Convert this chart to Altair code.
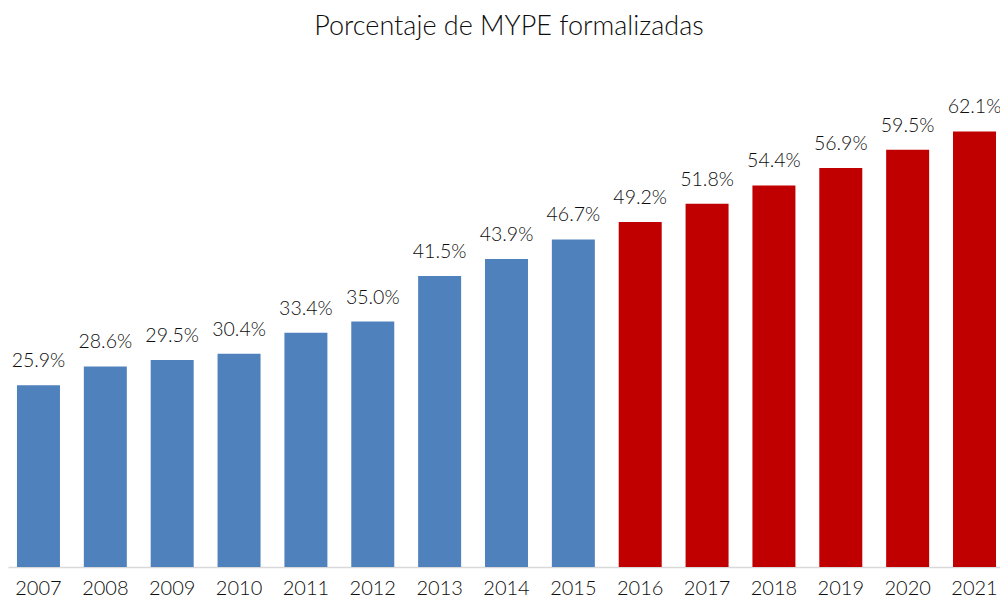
import altair as alt
import pandas as pd

years = ["2007", "2008", "2009", "2010", "2011", "2012", "2013", "2014",
         "2015", "2016", "2017", "2018", "2019", "2020", "2021"]
values = [25.9, 28.6, 29.5, 30.4, 33.4, 35.0, 41.5, 43.9,
          46.7, 49.2, 51.8, 54.4, 56.9, 59.5, 62.1]
groups = ["a"] * 9 + ["b"] * 6

df = pd.DataFrame({"year": years, "value": values, "group": groups})
df["label"] = df["value"].map(lambda v: f"{v:.1f}%")

FONT = "Lato"
TXT = "#0d0d0d"
W = 300

base = alt.Chart(df).encode(
    x=alt.X("year:N", sort=years,
            scale=alt.Scale(paddingInner=0.357, paddingOuter=0.097, align=0.692,
                            round=False),
            axis=alt.Axis(title=None, labelAngle=0, ticks=False, domain=True,
                          domainColor="#D9D9D9", domainWidth=1.5,
                          labelFont=FONT, labelFontSize=20, labelColor=TXT,
                          labelFontWeight=W,
                          labelBaseline="alphabetic", labelPadding=27, grid=False)),
    y=alt.Y("value:Q", scale=alt.Scale(domain=[0, 70]), axis=None),
)

bars = base.mark_bar().encode(
    color=alt.Color("group:N",
                    scale=alt.Scale(domain=["a", "b"], range=["#4F81BD", "#C00000"]),
                    legend=None)
)

labels = base.mark_text(baseline="bottom", dy=-14, font=FONT, fontSize=19.5,
                        fontWeight=W, color=TXT).encode(text="label:N")

chart = (bars + labels).properties(
    width=992, height=491,
    title=alt.Title("Porcentaje de MYPE formalizadas", font=FONT, fontSize=27,
                    fontWeight=W, color=TXT, anchor="middle", offset=35, dx=5),
    autosize=alt.AutoSizeParams(type="none"),
    padding={"left": 0, "top": 68, "right": 0, "bottom": 33},
).configure_view(stroke=None)

chart.save("out.html", embed_options={"renderer": "svg", "actions": False})
